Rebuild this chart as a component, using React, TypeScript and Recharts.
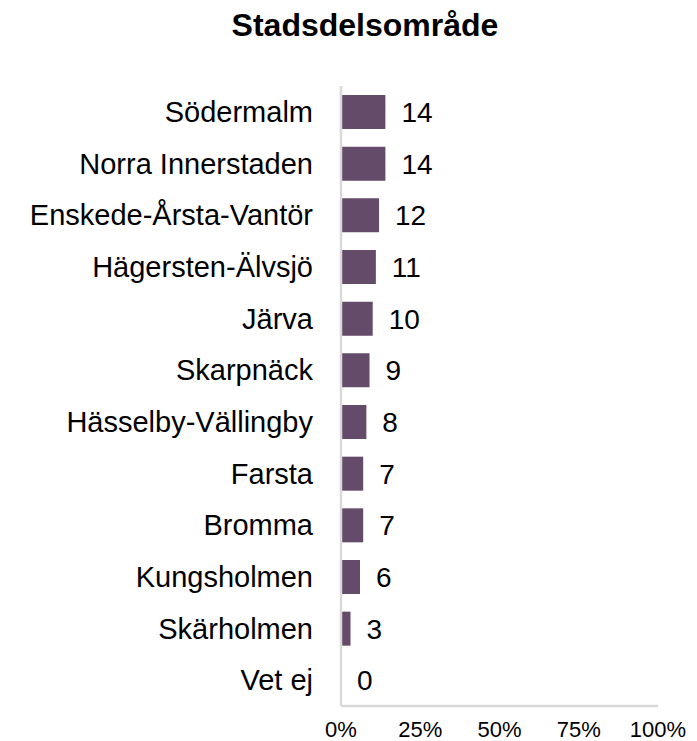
import { BarChart, Bar, XAxis, YAxis, LabelList } from 'recharts';

const areas = [
  'Södermalm',
  'Norra Innerstaden',
  'Enskede-Årsta-Vantör',
  'Hägersten-Älvsjö',
  'Järva',
  'Skarpnäck',
  'Hässelby-Vällingby',
  'Farsta',
  'Bromma',
  'Kungsholmen',
  'Skärholmen',
  'Vet ej',
];
const shares = [14, 14, 12, 11, 10, 9, 8, 7, 7, 6, 3, 0];
const xTicks = [0, 25, 50, 75, 100];

const data = areas.map((name, i) => ({ name, value: shares[i] }));

const font = 'Liberation Sans, Arial, sans-serif';

export default function App() {
  return (
    <div
      style={{
        position: 'relative',
        width: 697,
        height: 741,
        background: '#fff',
        fontFamily: font,
      }}
    >
      <style>{'body { margin: 0; }'}</style>
      <div
        style={{
          position: 'absolute',
          top: 7,
          left: 33,
          width: 664,
          textAlign: 'center',
          fontWeight: 'bold',
          fontSize: 32,
          color: '#000',
        }}
      >
        Stadsdelsområde
      </div>
      <BarChart
        width={697}
        height={741}
        data={data}
        layout="vertical"
        margin={{ top: 86, right: 39, bottom: 0, left: 0 }}
      >
        <XAxis
          type="number"
          domain={[0, 100]}
          ticks={xTicks}
          tickFormatter={(v: number) => `${v}%`}
          axisLine={{ stroke: '#d9d9d9', strokeWidth: 2.5 }}
          tickLine={false}
          tick={{ fill: '#000', fontSize: 22, fontFamily: font }}
          tickMargin={9}
          height={35}
          interval={0}
        />
        <YAxis
          type="category"
          dataKey="name"
          width={341}
          axisLine={{ stroke: '#d9d9d9', strokeWidth: 2.5 }}
          tickLine={false}
          tick={{ fill: '#000', fontSize: 29, fontFamily: font }}
          tickMargin={22}
          interval={0}
        />
        <Bar
          dataKey="value"
          fill="#644b69"
          barSize={34}
          minPointSize={(v: number) => (v === 0 ? 0.01 : 0)}
          isAnimationActive={false}
        >
          <LabelList
            dataKey="value"
            position="right"
            offset={16}
            style={{ fill: '#000', fontSize: 28, fontFamily: font }}
          />
        </Bar>
      </BarChart>
    </div>
  );
}
